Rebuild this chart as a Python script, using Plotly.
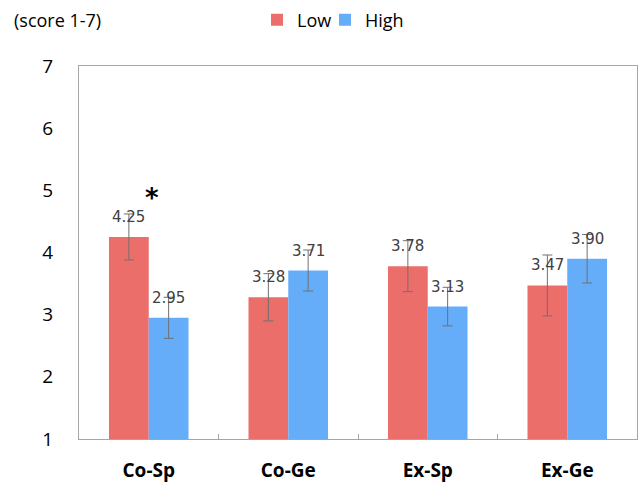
import plotly.graph_objects as go

categories = ["Co-Sp", "Co-Ge", "Ex-Sp", "Ex-Ge"]
low_values = [4.25, 3.28, 3.78, 3.47]
high_values = [2.95, 3.71, 3.13, 3.90]
low_err = [0.37, 0.38, 0.41, 0.49]
high_err = [0.33, 0.33, 0.31, 0.39]
series_names = ["Low", "High"]
y_ticks = [1, 2, 3, 4, 5, 6, 7]

RED = "#EC6E6B"
BLUE = "#66ADF9"
ERR = "#707070"

L, R, T, B = 79, 1, 66, 44
PW, PH = 638 - L - R, 483 - T - B

fig = go.Figure()
fig.add_trace(go.Bar(
    x=categories, y=low_values, name=series_names[0], marker_color=RED,
    marker_line_width=0, legend="legend",
    error_y=dict(type="data", array=low_err, color=ERR, thickness=1, width=5),
))
fig.add_trace(go.Bar(
    x=categories, y=high_values, name=series_names[1], marker_color=BLUE,
    marker_line_width=0, legend="legend2",
    error_y=dict(type="data", array=high_err, color=ERR, thickness=1, width=5),
))

annotations = []
for i, c in enumerate(categories):
    for vals, shift in ((low_values, -20), (high_values, 20)):
        annotations.append(dict(
            x=c, y=vals[i], xref="x", yref="y", text=f"{vals[i]:.2f}",
            showarrow=False, xshift=shift, yanchor="bottom", yshift=9,
            font=dict(family="DejaVu Sans", size=15, color="#404040"),
        ))
annotations.append(dict(
    x=categories[0], y=4.88, xref="x", yref="y", text="<b>*</b>",
    showarrow=False, xshift=3, yanchor="middle",
    font=dict(family="DejaVu Sans", size=26, color="#000000"),
))
annotations.append(dict(
    x=(12 - L) / PW, y=1 + (T - 20) / PH, xref="paper", yref="paper",
    text="(score 1-7)", showarrow=False, xanchor="left", yanchor="middle",
    font=dict(family="Open Sans", size=18, color="#000000"),
))

legend_common = dict(
    orientation="h", y=1 + (T - 20) / PH, xanchor="left", yanchor="middle",
    font=dict(family="Open Sans", size=18, color="#000000"),
    itemwidth=30, tracegroupgap=0, bgcolor="rgba(0,0,0,0)",
)

fig.update_layout(
    width=638, height=483,
    margin=dict(l=L, r=R, t=T, b=B, autoexpand=False),
    plot_bgcolor="white", paper_bgcolor="white",
    barmode="group", bargap=0.43, bargroupgap=0,
    showlegend=True,
    legend=dict(x=(257 - L) / PW, **legend_common),
    legend2=dict(x=(325 - L) / PW, **legend_common),
    annotations=annotations,
    xaxis=dict(
        showline=True, linecolor="#A6A6A6", linewidth=1, mirror=True,
        ticks="inside", tickson="boundaries", ticklen=5, tickcolor="#A6A6A6",
        tickfont=dict(family="Open Sans", size=19, color="#000000", weight="bold"),
        ticklabelstandoff=14,
    ),
    yaxis=dict(
        range=[1, 7], tickvals=y_ticks, showgrid=False, zeroline=False,
        showline=True, linecolor="#A6A6A6", linewidth=1, mirror=True,
        ticks="", tickfont=dict(family="Open Sans", size=19, color="#000000"),
        ticklabelstandoff=21,
    ),
)

fig.write_html("out.html", config={"displayModeBar": False},
               post_script="document.body.style.margin='0';")
